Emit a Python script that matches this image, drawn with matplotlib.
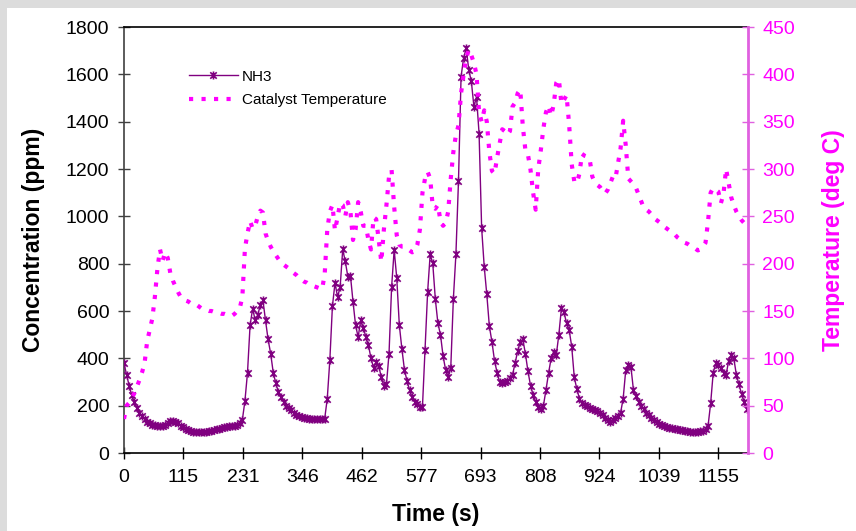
import matplotlib
matplotlib.use("Agg")
import matplotlib.pyplot as plt
from matplotlib.path import Path
from matplotlib.patches import Rectangle
import numpy as np

plt.rcParams['font.family'] = ['Liberation Sans', 'DejaVu Sans']

time_step_s = 5
nh3_ppm = [
    380, 330, 285, 245, 215, 190, 170, 155, 143, 132,   # 0-45
    125, 120, 117, 114, 112, 113, 118, 126, 134, 136,   # 50-95
    132, 125, 116, 108, 102, 96, 92, 90, 89, 89,        # 100-145
    88, 88, 90, 92, 95, 98, 100, 103, 105, 108,         # 150-195
    110, 112, 113, 115, 118, 125, 140, 220, 340, 540,   # 200-245
    610, 560, 585, 625, 645, 560, 480, 420, 340, 295,   # 250-295
    258, 235, 215, 200, 190, 180, 170, 162, 157, 152,   # 300-345
    148, 146, 145, 144, 143, 143, 142, 142, 145, 230,   # 350-395
    393, 620, 718, 660, 700, 860, 810, 745, 750, 640,   # 400-445
    540, 490, 560, 530, 490, 455, 400, 360, 386, 368,   # 450-495
    320, 282, 290, 420, 700, 858, 740, 541, 440, 351,   # 500-545
    305, 265, 235, 215, 205, 196, 196, 435, 680, 840,   # 550-595
    801, 650, 548, 500, 410, 351, 322, 360, 650, 840,   # 600-645
    1150, 1590, 1670, 1710, 1618, 1570, 1463, 1505, 1350, 950,  # 650-695
    787, 670, 535, 470, 390, 340, 300, 294, 300, 305,   # 700-745
    315, 330, 379, 430, 470, 480, 420, 345, 285, 245,   # 750-795
    215, 196, 185, 200, 266, 337, 400, 428, 414, 500,   # 800-845
    611, 595, 548, 520, 450, 320, 270, 230, 210, 203,   # 850-895
    198, 192, 188, 182, 176, 168, 160, 150, 138, 132,   # 900-945
    140, 147, 155, 170, 230, 350, 372, 365, 266, 240,   # 950-995
    215, 200, 185, 170, 161, 150, 140, 130, 124, 118,   # 1000-1045
    112, 108, 105, 104, 102, 100, 98, 96, 94, 92,       # 1050-1095
    90, 90, 90, 90, 92, 95, 100, 115, 210, 340,         # 1100-1145
    379, 372, 360, 340, 330, 390, 415, 400, 330, 290,   # 1150-1195
    250, 217, 185,                                      # 1200-1210
]
temp_c = [
    36, 50, 53, 58, 63, 70, 77, 85, 95, 118,            # 0-45
    130, 142, 165, 195, 215, 203, 212, 206, 190, 182,   # 50-95
    176, 170, 165, 163, 161, 160, 158, 157, 157, 155,   # 100-145
    153, 152, 151, 150, 150, 149, 148, 148, 147, 147,   # 150-195
    146, 146, 145, 147, 150, 153, 165, 216, 232, 245,   # 200-245
    237, 240, 250, 256, 254, 232, 224, 218, 213, 209,   # 250-295
    205, 201, 199, 197, 195, 193, 190, 188, 185, 183,   # 300-345
    181, 180, 178, 177, 176, 175, 174, 173, 189, 236,   # 350-395
    255, 262, 235, 249, 264, 262, 250, 265, 255, 225,   # 400-445
    236, 265, 255, 240, 240, 225, 215, 249, 247, 225,   # 450-495
    202, 236, 262, 292, 299, 260, 230, 220, 218, 218,   # 500-545
    216, 214, 212, 213, 220, 236, 275, 290, 297, 290,   # 550-595
    260, 258, 262, 245, 240, 243, 255, 290, 318, 336,   # 600-645
    346, 380, 400, 417, 426, 420, 412, 400, 360, 350,   # 650-695
    362, 350, 318, 298, 295, 312, 327, 342, 340, 336,   # 700-745
    340, 366, 370, 380, 384, 345, 320, 315, 299, 275,   # 750-795
    257, 300, 320, 343, 360, 367, 356, 368, 391, 395,   # 800-845
    369, 373, 378, 347, 305, 287, 285, 295, 316, 314,   # 850-895
    313, 310, 292, 286, 283, 281, 277, 274, 278, 285,   # 900-945
    292, 290, 306, 322, 351, 325, 290, 287, 284, 280,   # 950-995
    273, 266, 259, 257, 255, 252, 248, 246, 244, 241,   # 1000-1045
    239, 237, 235, 233, 231, 228, 226, 224, 222, 221,   # 1050-1095
    219, 218, 216, 214, 215, 218, 222, 245, 275, 280,   # 1100-1145
    278, 276, 264, 274, 300, 285, 270, 262, 255, 250,   # 1150-1195
    246, 243, 240,                                      # 1200-1210
]
time_s = np.arange(len(nh3_ppm)) * time_step_s

xtick_labels = ['0', '115', '231', '346', '462', '577', '693', '808', '924', '1039', '1155']
xtick_step = 115.5
left_ticks = [0, 200, 400, 600, 800, 1000, 1200, 1400, 1600, 1800]
right_ticks = [0, 50, 100, 150, 200, 250, 300, 350, 400, 450]

purple = '#800080'
magenta = '#ff00ff'

# Excel-like star marker (X plus vertical bar)
star = Path([(-1, -1), (1, 1), (-1, 1), (1, -1), (0, -1.25), (0, 1.25)],
            [Path.MOVETO, Path.LINETO, Path.MOVETO, Path.LINETO, Path.MOVETO, Path.LINETO])

fig = plt.figure(figsize=(8.56, 5.31), dpi=100, facecolor='white')
# grey frame strips at left and top
fig.patches.append(Rectangle((0, 0), 7 / 856, 1, transform=fig.transFigure,
                             facecolor='#dcdcdc', edgecolor='none', zorder=-10))
fig.patches.append(Rectangle((0, 1 - 8 / 531), 1, 8 / 531, transform=fig.transFigure,
                             facecolor='#dcdcdc', edgecolor='none', zorder=-10))

ax = fig.add_axes([124 / 856, 1 - 453 / 531, 623.7 / 856, 426 / 531])
ax2 = ax.twinx()

l1, = ax.plot(time_s, nh3_ppm, color=purple, lw=1.0, marker=star, markersize=5.8,
              markeredgewidth=1.2, markeredgecolor=purple, label='NH3', zorder=3)
l2, = ax2.plot(time_s, temp_c, color=magenta, lw=3.0, linestyle=(0, (1.0, 2.0)),
               dash_capstyle='butt', label='Catalyst Temperature')

ax.set_xlim(0, 1212)
ax.set_ylim(0, 1800)
ax2.set_ylim(0, 450)

ax.set_xticks([i * xtick_step for i in range(len(xtick_labels))])
ax.set_xticklabels(xtick_labels)
ax.set_yticks(left_ticks)
ax2.set_yticks(right_ticks)

ax.tick_params(axis='both', direction='inout', length=9, width=1.0, labelsize=14, colors='black')
ax.tick_params(axis='x', pad=7)
ax.tick_params(axis='y', pad=6, color='#404040')
ax2.tick_params(axis='y', direction='inout', length=9, width=1.0, labelsize=14,
                colors=magenta, pad=6, color='#e060e0')

for s in ['top', 'bottom']:
    ax.spines[s].set_color('black')
    ax.spines[s].set_linewidth(1.2)
ax.spines['left'].set_color('#404040')
ax.spines['left'].set_linewidth(1.2)
ax.spines['right'].set_visible(False)
ax2.spines['right'].set_color('#e060e0')
ax2.spines['right'].set_linewidth(2.0)
for s in ['top', 'bottom', 'left']:
    ax2.spines[s].set_visible(False)

ax.set_xlabel('Time (s)', fontsize=16.5, fontweight='bold')
ax.xaxis.set_label_coords(0.499, -0.118)
ax.set_ylabel('Concentration (ppm)', fontsize=16.5, fontweight='bold')
ax.yaxis.set_label_coords(-0.127, 0.5)
ax2.set_ylabel('Temperature (deg C)', fontsize=16.5, fontweight='bold', color=magenta)
ax2.yaxis.set_label_coords(1.119, 0.5)

ax2.legend([l1, l2], ['NH3', 'Catalyst Temperature'], loc='center left',
           bbox_to_anchor=((189 - 124) / 623.7, (453 - 88.5) / 426),
           frameon=False, fontsize=11, handlelength=3.2, handletextpad=0.25,
           labelspacing=0.62, borderpad=0, borderaxespad=0, numpoints=1)

fig.savefig('out.png', dpi=100, facecolor='white')
